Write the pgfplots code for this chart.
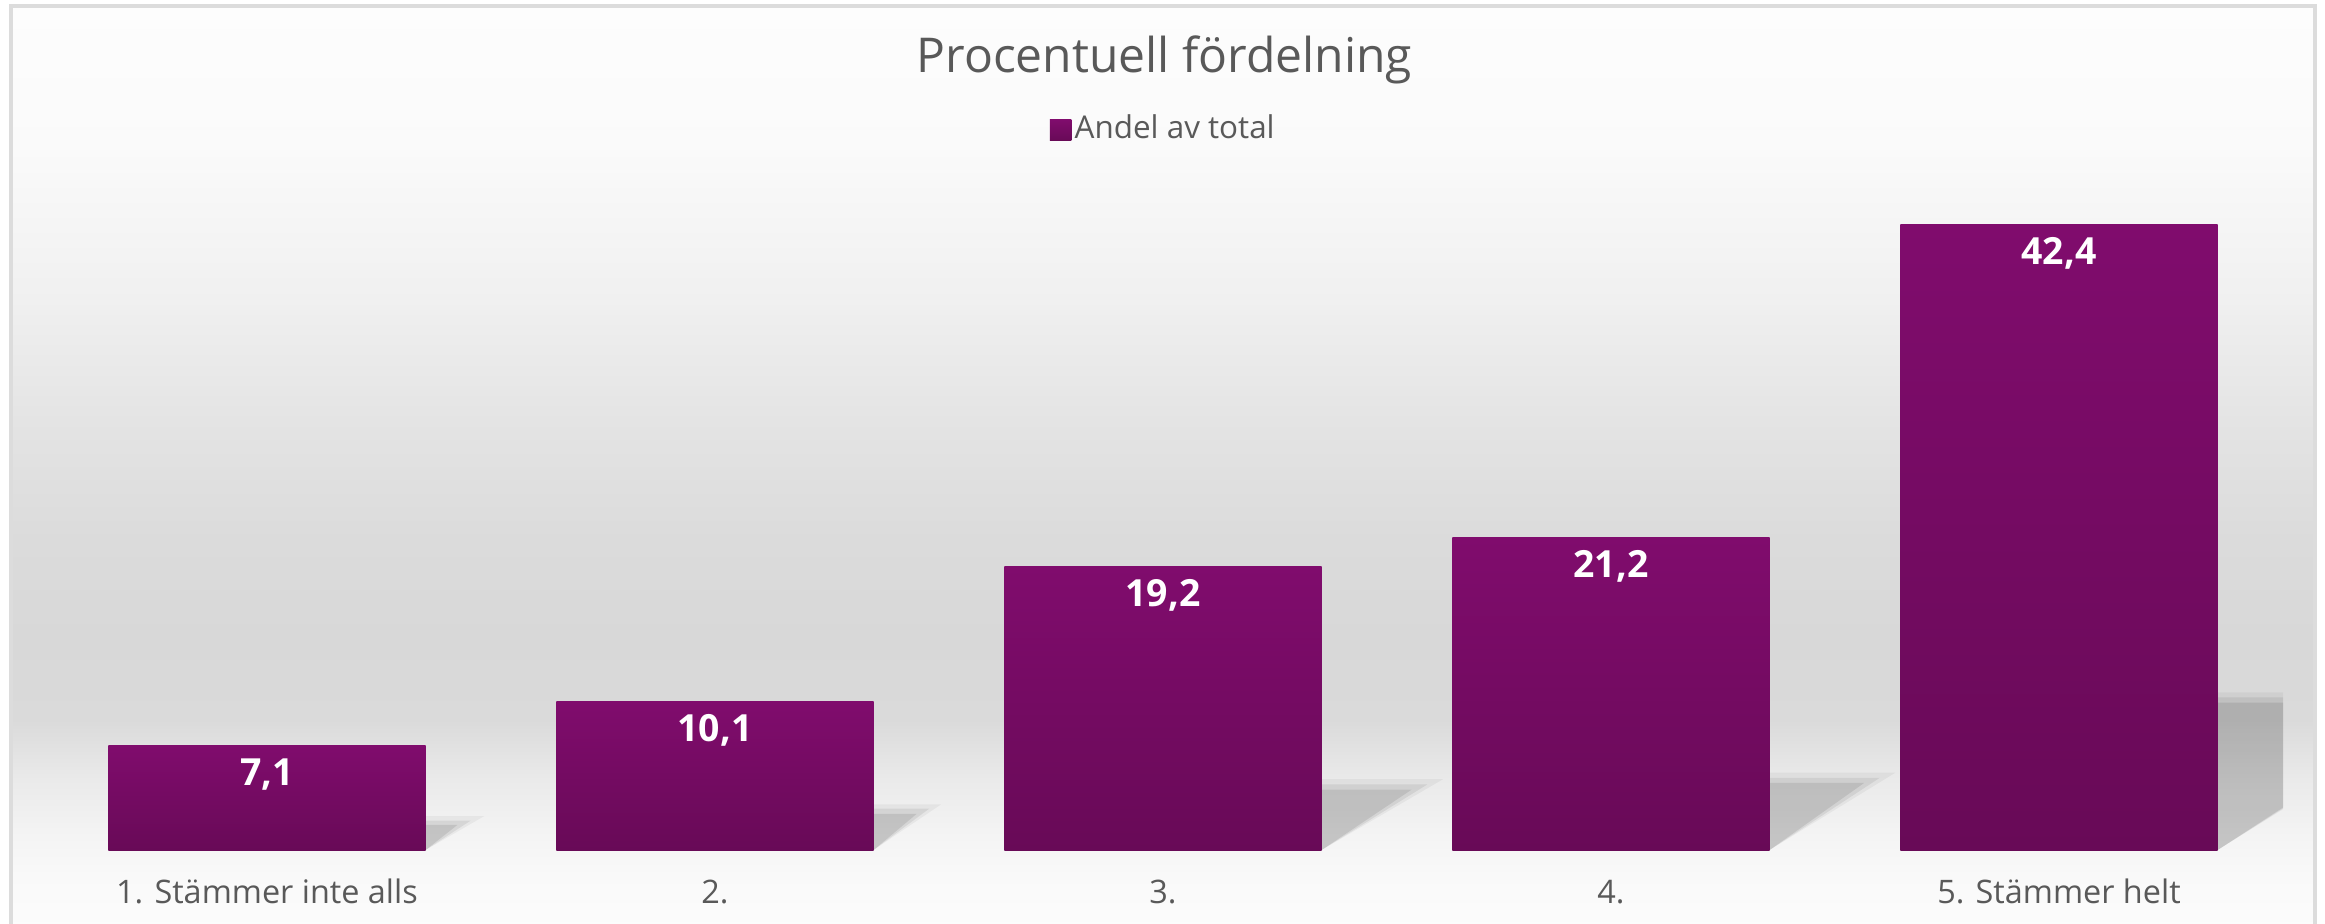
\documentclass[border=0pt]{standalone}
\usepackage{pgfplots}
\pgfplotsset{compat=1.18}
\usepackage{pgfplotstable}
\usepackage{fontspec}
\setmainfont{Open Sans}
\definecolor{txt}{HTML}{595959}
\definecolor{barTop}{HTML}{800C6D}
\definecolor{barBot}{HTML}{680A57}
\definecolor{framec}{HTML}{DCDCDC}
\definecolor{s0}{HTML}{FDFDFD}
\definecolor{s1}{HTML}{FAFAFA}
\definecolor{s2}{HTML}{F0F0F0}
\definecolor{s3}{HTML}{E4E4E4}
\definecolor{s4}{HTML}{DBDBDB}
\definecolor{s5}{HTML}{D8D8D8}
\definecolor{s6}{HTML}{DADADA}
\definecolor{s7}{HTML}{E9E9E9}
\definecolor{s8}{HTML}{F3F3F3}
\definecolor{s9}{HTML}{F9F9F9}
\definecolor{s10}{HTML}{FCFCFC}

% background segment: image y top, image y bottom, color top, color bottom
\newcommand\bgseg[4]{\fill[top color=#3, bottom color=#4, draw=none] (11,{923-#1+0.6}) rectangle (2315,{923-#2-0.6});}

\pgfplotsset{
  barstyle/.style={ybar, bar width=0.708, draw=none, top color=barTop, bottom color=barBot,
    legend image code/.code={\fill[top color=barTop, bottom color=barBot, draw=none] (0pt,-2.6pt) rectangle (5.4pt,2.6pt);},
    nodes near coords, point meta=explicit symbolic,
    nodes near coords style={anchor=base, yshift=-10pt, text=white, font=\bfseries\fontsize{9.35}{11}\selectfont, inner sep=0pt}},
  shadowA/.style={draw=none, fill=black, fill opacity=0.045, forget plot},
  shadowB/.style={draw=none, fill=black, fill opacity=0.07, forget plot},
  shadowC/.style={draw=none, fill=black, fill opacity=0.09, forget plot},
}

\begin{document}
\begin{tikzpicture}
\useasboundingbox (0,0) rectangle (581.25pt,230.75pt);
\begin{scope}[x=0.25pt,y=0.25pt]
  \bgseg{5}{150}{s0}{s1}
  \bgseg{150}{300}{s1}{s2}
  \bgseg{300}{420}{s2}{s3}
  \bgseg{420}{540}{s3}{s4}
  \bgseg{540}{640}{s4}{s5}
  \bgseg{640}{720}{s5}{s6}
  \bgseg{720}{775}{s6}{s7}
  \bgseg{775}{830}{s7}{s8}
  \bgseg{830}{875}{s8}{s9}
  \bgseg{875}{930}{s9}{s10}
  \draw[framec, line width=0.8pt] (11,-20) -- (11,{923-6}) -- (2315,{923-6}) -- (2315,-20);
\end{scope}
\begin{axis}[
  at={(10.75pt,18.25pt)}, anchor=south west, scale only axis,
  width=560pt, height=156.25pt,
  xmin=-0.5, xmax=4.5, ymin=0, ymax=42.4,
  axis line style={draw=none}, tick style={draw=none},
  ytick=\empty, xtick={0,1,2,3,4},
  xticklabels={1. Stämmer inte alls, 2., 3., 4., 5. Stämmer helt},
  xticklabel style={anchor=base, yshift=-13.25pt, font=\fontsize{8.1}{9.7}\selectfont, text=txt, inner sep=0pt},
  legend style={at={(0.5004,1.152)}, anchor=center, draw=none, fill=none,
    font=\fontsize{7.85}{9.4}\selectfont, text=txt, inner sep=0pt, nodes={inner sep=0.8pt}},
  clip=true,
]
% shadows (soft layers)
\addplot[shadowA] coordinates {(0.354,0) (0.354,2.3) (0.485,2.3)};
\addplot[shadowB] coordinates {(0.354,0) (0.354,2.0) (0.455,2.0)};
\addplot[shadowC] coordinates {(0.354,0) (0.354,1.7) (0.425,1.7)};
\addplot[shadowA] coordinates {(1.354,0) (1.354,3.1) (1.505,3.1)};
\addplot[shadowB] coordinates {(1.354,0) (1.354,2.8) (1.478,2.8)};
\addplot[shadowC] coordinates {(1.354,0) (1.354,2.45) (1.450,2.45)};
\addplot[shadowA] coordinates {(2.354,0) (2.354,4.8) (2.625,4.8)};
\addplot[shadowB] coordinates {(2.354,0) (2.354,4.45) (2.590,4.45)};
\addplot[shadowC] coordinates {(2.354,0) (2.354,4.1) (2.555,4.1)};
\addplot[shadowA] coordinates {(3.354,0) (3.354,5.25) (3.635,5.25)};
\addplot[shadowB] coordinates {(3.354,0) (3.354,4.9) (3.600,4.9)};
\addplot[shadowC] coordinates {(3.354,0) (3.354,4.55) (3.565,4.55)};
\addplot[shadowA] coordinates {(4.354,0) (4.354,10.7) (4.92,10.7)};
\addplot[shadowB] coordinates {(4.354,0) (4.354,10.35) (4.89,10.35)};
\addplot[shadowC] coordinates {(4.354,0) (4.354,10.0) (4.86,10.0)};
% bars (one plot per bar so each bar carries its own gradient)
\addplot[barstyle] coordinates {(0,7.1) [7,1]};
\addlegendentry{Andel av total}
\addplot[barstyle, forget plot] coordinates {(1,10.1) [10,1]};
\addplot[barstyle, forget plot] coordinates {(2,19.2) [19,2]};
\addplot[barstyle, forget plot] coordinates {(3,21.2) [21,2]};
\addplot[barstyle, forget plot] coordinates {(4,42.4) [42,4]};
\end{axis}
\node[anchor=base, inner sep=0pt, text=txt, font=\fontsize{12}{14.4}\selectfont] at (291.1pt,212.5pt) {Procentuell fördelning};
\end{tikzpicture}
\end{document}
